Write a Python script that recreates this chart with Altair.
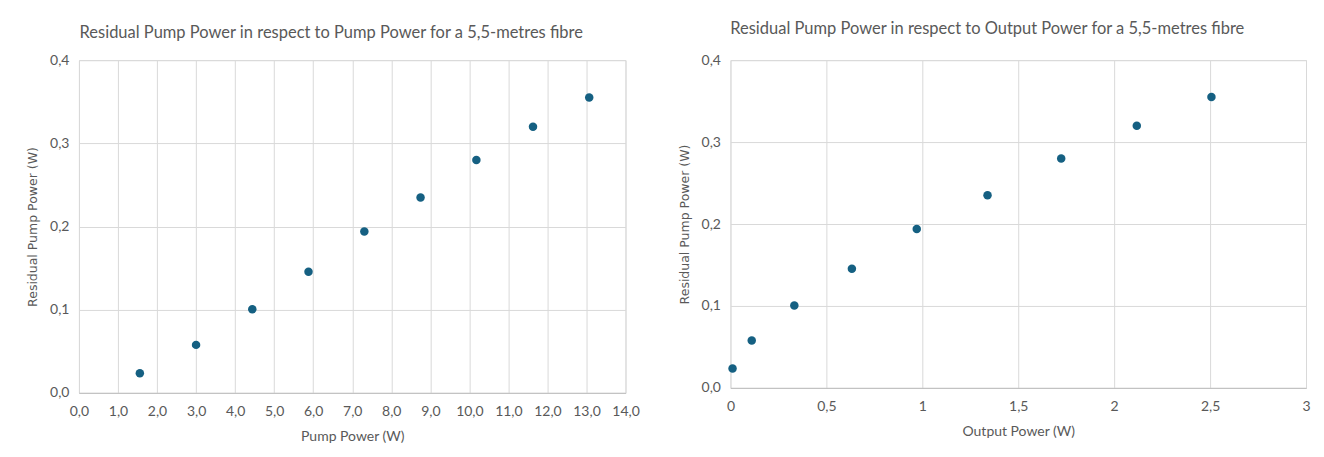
import altair as alt
import pandas as pd

pump_power = [1.56, 3.00, 4.44, 5.88, 7.31, 8.75, 10.18, 11.63, 13.07]
output_power = [0.011, 0.111, 0.333, 0.633, 0.971, 1.34, 1.724, 2.118, 2.507]
residual_pump = [0.0236, 0.0577, 0.1006, 0.1455, 0.194, 0.235, 0.280, 0.320, 0.355]

df = pd.DataFrame({"pump": pump_power, "out": output_power, "res": residual_pump})

GRID = "#d9d9d9"
TXT = "#595959"
DOT = "#156082"

def yaxis():
    return alt.Axis(
        values=[0, 0.1, 0.2, 0.3, 0.4],
        labelExpr="replace(format(datum.value, '.1f'), '.', ',')",
        title="Residual Pump Power (W)",
        titleFont="DejaVu Sans", titleFontSize=12.5, titleFontWeight="normal",
        titleColor=TXT, titlePadding=10,
        labelFont="Lato", labelFontSize=14, labelColor=TXT, labelPadding=10,
        labelFlush=False,
        ticks=False, domain=False, gridColor=GRID,
    )

def xaxis(values, expr, title):
    return alt.Axis(values=values, labelExpr=expr,
                    title=title, titleFont="Lato", titleFontSize=14,
                    titleFontWeight="normal", titleColor=TXT, titlePadding=11,
                    labelFont="Lato", labelFontSize=14, labelColor=TXT, labelPadding=12,
                    labelFlush=False, labelOverlap=False,
                    ticks=False, domainColor="#bfbfbf", gridColor=GRID)

left = alt.Chart(df).mark_circle(size=72, color=DOT, opacity=1).encode(
    x=alt.X("pump:Q", scale=alt.Scale(domain=[0, 14], nice=False),
            axis=xaxis(list(range(0, 15)), "replace(format(datum.value, '.1f'), '.', ',')",
                       "Pump Power (W)")),
    y=alt.Y("res:Q", scale=alt.Scale(domain=[0, 0.4], nice=False), axis=yaxis()),
).properties(
    width=547, height=333,
    title=alt.TitleParams("Residual Pump Power in respect to Pump Power for a 5,5-metres fibre",
                          font="Lato", fontSize=16.5, fontWeight="normal", color=TXT,
                          offset=12, dx=-21),
)

right = alt.Chart(df).mark_circle(size=72, color=DOT, opacity=1).encode(
    x=alt.X("out:Q", scale=alt.Scale(domain=[0, 3], nice=False),
            axis=xaxis([0, 0.5, 1, 1.5, 2, 2.5, 3], "replace(toString(datum.value), '.', ',')",
                       "Output Power (W)")),
    y=alt.Y("res:Q", scale=alt.Scale(domain=[0, 0.4], nice=False), axis=yaxis()),
).properties(
    width=576, height=328,
    title=alt.TitleParams("Residual Pump Power in respect to Output Power for a 5,5-metres fibre",
                          font="Lato", fontSize=16.5, fontWeight="normal", color=TXT,
                          offset=12, dx=-31, dy=-4),
)

chart = alt.hconcat(left, right, spacing=37).configure_view(
    stroke=GRID
).configure(background="white", padding={"left": 18, "top": 12, "right": 5, "bottom": 5})

chart.save("out.html", embed_options={"renderer": "svg", "actions": False})
